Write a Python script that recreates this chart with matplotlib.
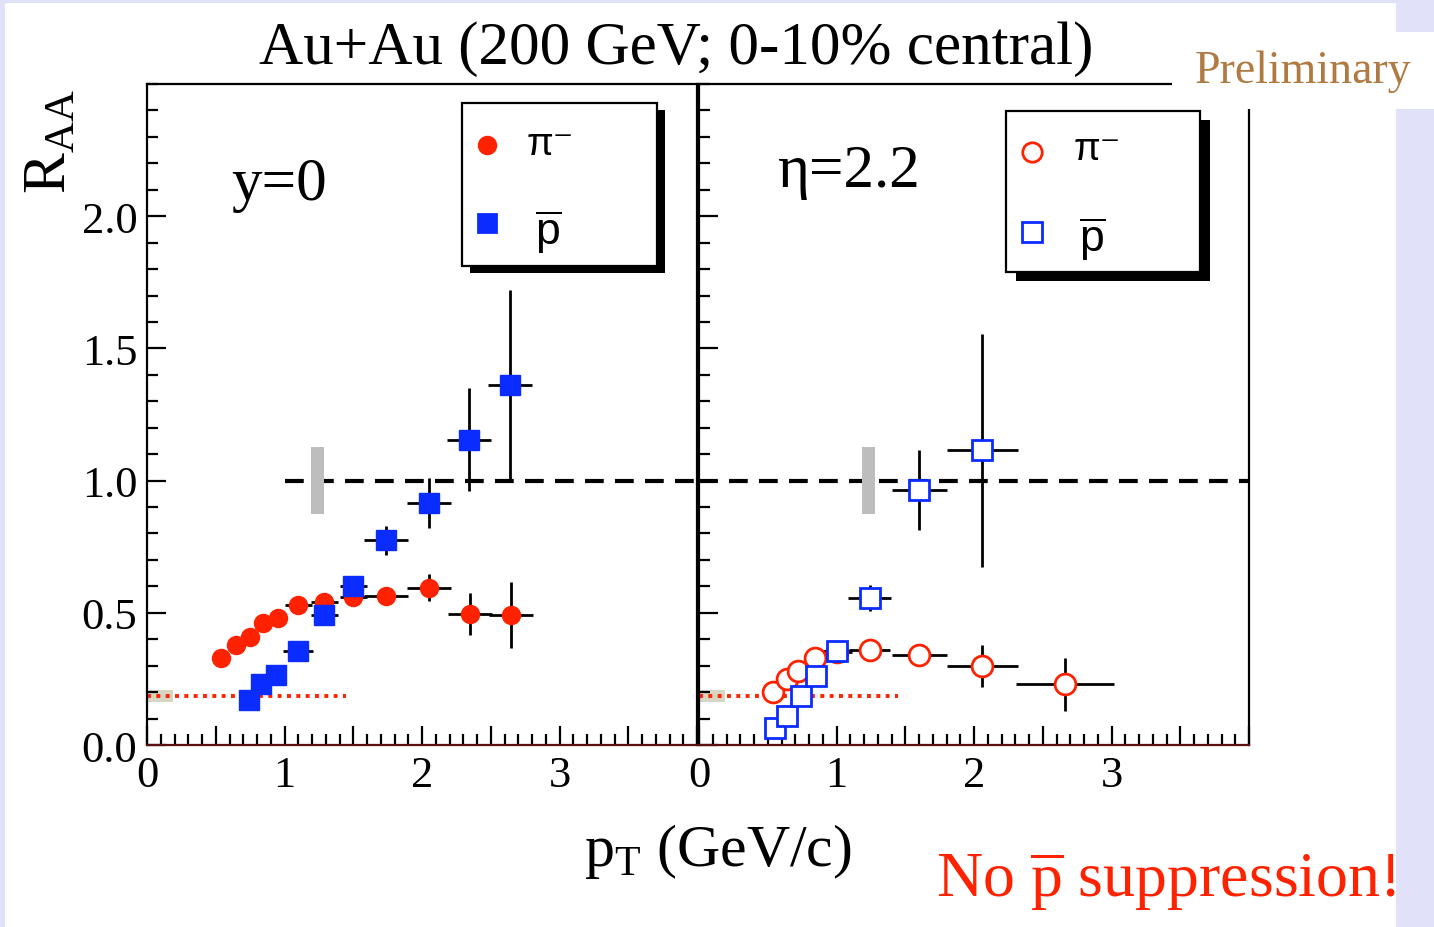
import matplotlib
matplotlib.use('Agg')
import matplotlib.pyplot as plt
from matplotlib.patches import Rectangle
from matplotlib.ticker import FixedLocator, MultipleLocator, FuncFormatter

plt.rcParams['font.family'] = ['Liberation Serif', 'DejaVu Serif']
plt.rcParams['mathtext.fontset'] = 'custom'
plt.rcParams['mathtext.rm'] = 'Liberation Serif'
plt.rcParams['mathtext.sf'] = 'Liberation Sans'

# ---- data: y=0 (filled) ----
pt_pi_y0 = [0.54, 0.65, 0.75, 0.84, 0.95, 1.10, 1.29, 1.50, 1.74, 2.05, 2.35, 2.65]
raa_pi_y0 = [0.33, 0.38, 0.41, 0.46, 0.48, 0.53, 0.54, 0.56, 0.565, 0.595, 0.495, 0.49]
xerr_pi_y0 = [0.04, 0.04, 0.04, 0.04, 0.05, 0.10, 0.10, 0.10, 0.16, 0.16, 0.16, 0.16]
yerr_pi_y0 = [0.01, 0.01, 0.01, 0.01, 0.01, 0.015, 0.015, 0.02, 0.02, 0.05, 0.08, 0.125]

pt_pbar_y0 = [0.74, 0.83, 0.94, 1.10, 1.29, 1.50, 1.74, 2.05, 2.34, 2.64]
raa_pbar_y0 = [0.17, 0.23, 0.265, 0.355, 0.49, 0.60, 0.775, 0.915, 1.155, 1.36]
xerr_pbar_y0 = [0.04, 0.04, 0.05, 0.11, 0.10, 0.10, 0.16, 0.16, 0.16, 0.16]
yerr_pbar_y0 = [0.01, 0.01, 0.015, 0.02, 0.03, 0.03, 0.055, 0.095, 0.195, 0.36]

# ---- data: eta=2.2 (open) ----
pt_pi_eta = [0.54, 0.64, 0.72, 0.84, 1.00, 1.24, 1.60, 2.06, 2.66]
raa_pi_eta = [0.20, 0.25, 0.28, 0.33, 0.35, 0.36, 0.34, 0.30, 0.23]
xerr_pi_eta = [0.04, 0.04, 0.04, 0.05, 0.11, 0.15, 0.20, 0.26, 0.355]
yerr_pi_eta = [0.01, 0.01, 0.01, 0.01, 0.015, 0.02, 0.02, 0.08, 0.10]

pt_pbar_eta = [0.55, 0.64, 0.74, 0.85, 1.00, 1.24, 1.60, 2.06]
raa_pbar_eta = [0.065, 0.11, 0.185, 0.26, 0.355, 0.555, 0.965, 1.115]
xerr_pbar_eta = [0.04, 0.04, 0.04, 0.05, 0.10, 0.155, 0.20, 0.26]
yerr_pbar_eta = [0.01, 0.01, 0.01, 0.015, 0.02, 0.05, 0.15, 0.44]

# reference / normalisation info
ref_level = 1.0
norm_box_x = [1.19, 1.185]
norm_unc = 0.127
dotted_level = 0.185
dotted_end = 1.45

W, H = 1434, 928
RED = '#ff2200'
BLUE = '#0a2cff'
LAV = '#e1e1f9'

fig = plt.figure(figsize=(W / 100, H / 100), dpi=100, facecolor=LAV)
fig.patches.append(Rectangle((5 / W, 0), (1396 - 5) / W, (H - 4) / H,
                             transform=fig.transFigure, facecolor='white',
                             edgecolor='none', zorder=-10))


def px_axes(x0, y0, x1, y1):
    return fig.add_axes([x0 / W, 1 - y1 / H, (x1 - x0) / W, (y1 - y0) / H])


ax_l = px_axes(147, 85, 697, 746)
ax_r = px_axes(699, 85, 1249, 746)


def style(ax, ylabels):
    ax.set_xlim(0, 4)
    ax.set_ylim(0, 2.5)
    ax.xaxis.set_major_locator(MultipleLocator(0.5))
    ax.xaxis.set_minor_locator(MultipleLocator(0.1))
    ax.xaxis.set_major_formatter(FuncFormatter(
        lambda v, p: f'{v:.0f}' if abs(v - round(v)) < 1e-6 and v < 3.5 else ''))
    ax.yaxis.set_major_locator(FixedLocator([0, 0.5, 1.0, 1.5, 2.0]))
    ax.yaxis.set_minor_locator(MultipleLocator(0.1))
    if ylabels:
        ax.yaxis.set_major_formatter(FuncFormatter(lambda v, p: f'{v:.1f}'))
    else:
        ax.set_yticklabels([])
    ax.tick_params(which='major', direction='in', length=14, width=1.6,
                   labelsize=32, pad=7, top=False, right=False)
    ax.tick_params(which='minor', direction='in', length=8, width=1.6,
                   top=False, right=False)
    for s in ax.spines.values():
        s.set_linewidth(1.6)
    ax.spines['bottom'].set_color('#5a1010')


style(ax_l, True)
style(ax_r, False)

eb = dict(ecolor='black', elinewidth=2.0, capsize=0, linestyle='none', zorder=3)

# left panel: y=0
ax_l.errorbar(pt_pi_y0, raa_pi_y0, xerr=xerr_pi_y0, yerr=yerr_pi_y0,
              marker='o', ms=13, mfc=RED, mec=RED, **eb)
ax_l.errorbar(pt_pbar_y0, raa_pbar_y0, xerr=xerr_pbar_y0, yerr=yerr_pbar_y0,
              marker='s', ms=14, mfc=BLUE, mec=BLUE, **eb)

# right panel: eta=2.2
ax_r.errorbar(pt_pi_eta, raa_pi_eta, xerr=xerr_pi_eta, yerr=yerr_pi_eta,
              marker='o', ms=15, mfc='white', mec=RED, mew=2.0, **eb)
ax_r.errorbar(pt_pbar_eta, raa_pbar_eta, xerr=xerr_pbar_eta, yerr=yerr_pbar_eta,
              marker='s', ms=15, mfc='white', mec=BLUE, mew=2.0, **eb)

for ax, xstart, bx in [(ax_l, 1.0, norm_box_x[0]), (ax_r, 0.0, norm_box_x[1])]:
    ax.plot([xstart, 4.0], [ref_level, ref_level], color='black', lw=3,
            dashes=(4.5, 2.7), zorder=2)
    ax.add_patch(Rectangle((bx, ref_level - norm_unc), 0.095, 2 * norm_unc,
                           facecolor='#bdbdbd', edgecolor='none', zorder=2.5))
    ax.add_patch(Rectangle((0, dotted_level - 0.023), 0.19, 0.046,
                           facecolor='#d8d5c2', edgecolor='none', zorder=1))
    ax.plot([0, dotted_end], [dotted_level, dotted_level], color=RED, lw=2.8,
            linestyle=(0, (1, 1.4)), zorder=1.5)

ax_l.text(0.96, 2.12, 'y=0', fontsize=44, ha='center', va='center')
ax_r.text(1.09, 2.17, 'η=2.2', fontsize=44, ha='center', va='center')


def legend(ax, box, shadow, mk_face, pos):
    x0, y0, x1, y1 = box
    dx, dy = shadow
    ax.add_patch(Rectangle((x0 + dx, y0 - dy), x1 - x0, y1 - y0,
                           transform=ax.transAxes, facecolor='black',
                           edgecolor='none', zorder=5))
    ax.add_patch(Rectangle((x0, y0), x1 - x0, y1 - y0, transform=ax.transAxes,
                           facecolor='white', edgecolor='black', lw=1.6, zorder=6))
    (cx, cy1, cy2, tx1, ty1, tx2, ty2, msz) = pos
    ax.plot([cx], [cy1], marker='o', ms=msz[0], mfc=mk_face[0], mec=RED,
            mew=2.0, transform=ax.transAxes, zorder=7, clip_on=False)
    ax.plot([cx], [cy2], marker='s', ms=msz[1], mfc=mk_face[1], mec=BLUE,
            mew=2.0, transform=ax.transAxes, zorder=7, clip_on=False)
    ax.text(tx1, ty1, 'π⁻', transform=ax.transAxes, fontsize=28,
            family=['Liberation Sans', 'DejaVu Sans'], ha='center', va='center', zorder=7)
    ax.text(tx2, ty2, r'$\overline{\mathsf{p}}$', transform=ax.transAxes,
            fontsize=32, ha='center', va='center', zorder=7)


legend(ax_l, (0.573, 0.725, 0.927, 0.971), (8 / 550, 7 / 661), (RED, BLUE),
       (0.618, 0.908, 0.790, 0.733, 0.909, 0.729, 0.778, (12, 13)))
legend(ax_r, (0.558, 0.716, 0.911, 0.959), (10 / 550, 9 / 661), ('white', 'white'),
       (0.605, 0.897, 0.776, 0.724, 0.902, 0.716, 0.766, (14, 15)))

# title, axis labels and annotations
fig.text(676 / W, 1 - 49 / H, 'Au+Au (200 GeV; 0-10% central)', fontsize=44,
         ha='center', va='center')
fig.text(50 / W, 1 - 142 / H, r'R$_{\mathrm{AA}}$', fontsize=44, rotation=90,
         ha='center', va='center')
fig.text(718 / W, 1 - 852 / H, r'p$_{\mathrm{T}}$ (GeV/c)', fontsize=43,
         ha='center', va='center')
fig.text(1166 / W, 1 - 882 / H, r'No $\overline{\mathrm{p}}$ suppression!',
         fontsize=46, color=RED, ha='center', va='center')

# "Preliminary" label box
fig.patches.append(Rectangle((1172 / W, 1 - 110 / H), (W - 1172) / W, 77 / H,
                             transform=fig.transFigure, facecolor='white',
                             edgecolor='none', zorder=10))
fig.text(1303 / W, 1 - 72 / H, 'Preliminary', fontsize=33, color='#b07b42',
         ha='center', va='center', zorder=11)

fig.savefig('out.png', dpi=100, facecolor=LAV)
